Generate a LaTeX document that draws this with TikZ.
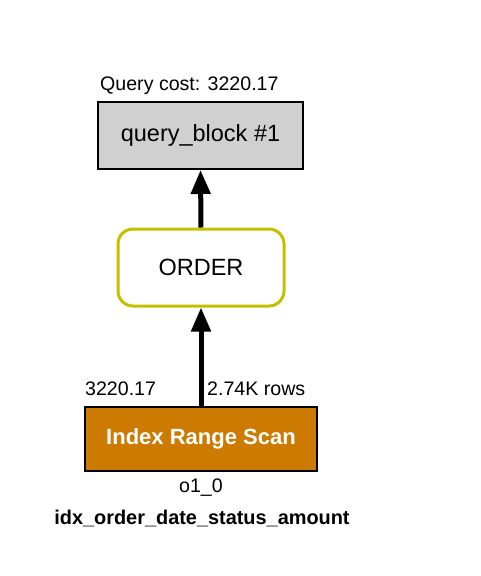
\documentclass[tikz,border=0pt]{standalone}
\usepackage{fontspec}
\setmainfont{Liberation Sans}
\usetikzlibrary{arrows.meta}
\definecolor{qbgray}{HTML}{D0D0D0}
\definecolor{orderyel}{HTML}{C4C000}
\definecolor{scanorange}{HTML}{CC7A00}
\tikzset{
  qbox/.style={draw=black, line width=2pt, fill=qbgray, minimum width=205pt, minimum height=67pt, inner sep=0pt, font=\fontsize{23.5}{28}\selectfont},
  opbox/.style={draw=orderyel, line width=3pt, fill=white, rounded corners=15pt, minimum width=166pt, minimum height=77pt, inner sep=0pt, font=\fontsize{23.5}{28}\selectfont},
  scanbox/.style={draw=black, line width=2pt, fill=scanorange, minimum width=232pt, minimum height=64pt, inner sep=0pt, text=white, font=\fontsize{22}{26}\selectfont\bfseries},
  lbl/.style={inner sep=0pt, font=\fontsize{19.6}{23}\selectfont},
  blbl/.style={inner sep=0pt, font=\fontsize{19.9}{23}\selectfont\bfseries},
  flow/.style={line width=5pt, -{Triangle[length=24pt,width=19pt]}}
}
\begin{document}
\begin{tikzpicture}[x=1pt,y=-1pt]
\useasboundingbox (0,0) rectangle (480,576);
\node[qbox] (qb) at (200.5,135.5) {query\_block \#1};
\node[opbox] (ord) at (201,267.5) {ORDER};
\node[scanbox] (scan) at (201,439) {Index Range Scan};
\node[lbl, anchor=west] (cost) at (100,86) {Query cost: 3220.17};
\node[lbl, anchor=west] (scost) at (85,389) {3220.17};
\node[lbl, anchor=west] (rows) at (207,389) {2.74K rows};
\node[lbl] (tbl) at (201,488) {o1\_0};
\node[blbl] (idx) at (202,518) {idx\_order\_date\_status\_amount};
\draw[flow] (ord.north) -- (qb.south);
\draw[flow] (scan.north) -- (ord.south);
\end{tikzpicture}
\end{document}
